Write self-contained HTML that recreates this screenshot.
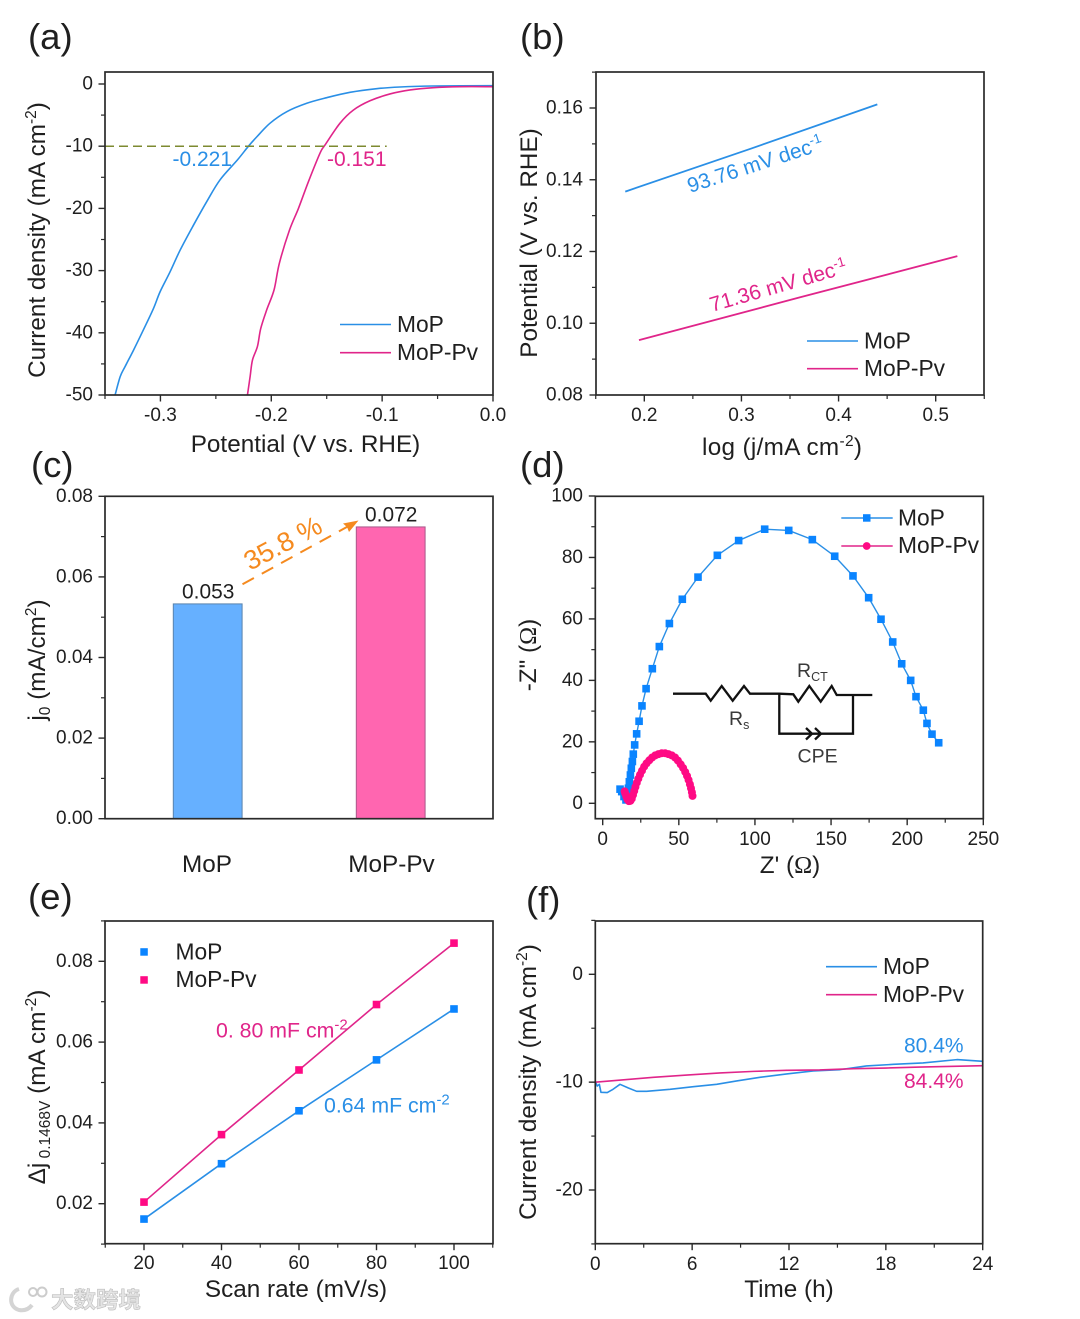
<!DOCTYPE html>
<html lang="en">
<head>
<meta charset="utf-8">
<title>Electrocatalysis chart panels</title>
<style>
html,body{margin:0;padding:0;background:#fff}
svg{display:block;filter:blur(.3px)}
text{font-family:"Liberation Sans","Noto Sans CJK SC",sans-serif;fill:#1f1f1f}
.tick{font-size:19px}
.title{font-size:24.3px}
.legend{font-size:22.8px}
.panel{font-size:36.5px}
.note{font-size:21px}
.frame{fill:none;stroke:#2a2a2a;stroke-width:1.7}
.om{font-family:"Liberation Serif",serif}
.blue{fill:#2a8fe6}
.pink{fill:#e0258a}
</style>
</head>
<body>
<svg id="figure" xmlns="http://www.w3.org/2000/svg" width="1080" height="1319" viewBox="0 0 1080 1319">
<rect width="1080" height="1319" fill="#fff"/>

<text class="panel" x="28" y="49">(a)</text>
<text class="panel" x="520" y="49">(b)</text>
<text class="panel" x="31" y="477">(c)</text>
<text class="panel" x="520" y="477">(d)</text>
<text class="panel" x="28" y="909">(e)</text>
<text class="panel" x="526" y="912">(f)</text>

<g id="plot-a"></g>
<g id="plot-b"></g>
<g id="plot-c"></g>
<g id="plot-d"></g>
<g id="plot-e"></g>
<g id="plot-f"></g>

<rect class="frame" x="105" y="72" width="388" height="323"/>
<rect class="frame" x="596" y="72" width="388" height="323"/>
<rect class="frame" x="105" y="496.3" width="388" height="322.4"/>
<rect class="frame" x="595.3" y="496.3" width="388" height="322.4"/>
<rect class="frame" x="105" y="921" width="388" height="322.7"/>
<rect class="frame" x="595.3" y="921" width="387.4" height="322.7"/>

<text class="title" x="305.5" y="452" text-anchor="middle">Potential (V vs. RHE)</text>
<text class="title" transform="translate(45 240) rotate(-90)" text-anchor="middle">Current density (mA cm<tspan dy="-9" font-size="15.5">-2</tspan><tspan dy="9">)</tspan></text>
<text class="title" x="782" y="455" text-anchor="middle" textLength="160" lengthAdjust="spacing">log (j/mA cm<tspan dy="-9" font-size="15.5">-2</tspan><tspan dy="9">)</tspan></text>
<text class="title" transform="translate(537 243) rotate(-90)" text-anchor="middle">Potential (V vs. RHE)</text>
<text class="title" x="207" y="872" text-anchor="middle">MoP</text>
<text class="title" x="391.5" y="872" text-anchor="middle">MoP-Pv</text>
<text class="title" transform="translate(45 660) rotate(-90)" text-anchor="middle">j<tspan dy="5" font-size="15.5">0</tspan><tspan dy="-5"> (mA/cm</tspan><tspan dy="-9" font-size="15.5">2</tspan><tspan dy="9">)</tspan></text>
<text class="title" x="790" y="873" text-anchor="middle">Z' (<tspan class="om">Ω</tspan>)</text>
<text class="title" transform="translate(536 655) rotate(-90)" text-anchor="middle">-Z" (<tspan class="om">Ω</tspan>)</text>
<text class="title" x="296" y="1297" text-anchor="middle">Scan rate (mV/s)</text>
<text class="title" transform="translate(45 1087) rotate(-90)" text-anchor="middle">Δj<tspan dy="5" font-size="15.5"> 0.1468V</tspan><tspan dy="-5"> (mA cm</tspan><tspan dy="-9" font-size="15.5">-2</tspan><tspan dy="9">)</tspan></text>
<text class="title" x="789" y="1297" text-anchor="middle">Time (h)</text>
<text class="title" transform="translate(536 1082) rotate(-90)" text-anchor="middle">Current density (mA cm<tspan dy="-9" font-size="15.5">-2</tspan><tspan dy="9">)</tspan></text>

<text class="note blue" x="172.5" y="166">-0.221</text>
<text class="note pink" x="327" y="166">-0.151</text>
<g>
  <line x1="340" x2="391" y1="324.5" y2="324.5" stroke="#2a8fe6" stroke-width="1.6"/>
  <text class="legend" x="397" y="332">MoP</text>
  <line x1="340" x2="391" y1="352.7" y2="352.7" stroke="#e0258a" stroke-width="1.6"/>
  <text class="legend" x="397" y="360">MoP-Pv</text>
</g>

<text class="note blue" transform="translate(690 193) rotate(-18)">93.76 mV dec<tspan dy="-8" font-size="13.5">-1</tspan></text>
<text class="note pink" transform="translate(712 312) rotate(-16)">71.36 mV dec<tspan dy="-8" font-size="13.5">-1</tspan></text>
<g>
  <line x1="807" x2="858" y1="341" y2="341" stroke="#2a8fe6" stroke-width="1.6"/>
  <text class="legend" x="864" y="348.5">MoP</text>
  <line x1="807" x2="858" y1="368.7" y2="368.7" stroke="#e0258a" stroke-width="1.6"/>
  <text class="legend" x="864" y="376">MoP-Pv</text>
</g>

<g>
  <line x1="242.5" y1="584.3" x2="350" y2="525.3" stroke="#f58a1f" stroke-width="2" stroke-dasharray="13 9"/>
  <path d="M358.5 520.5 L343 523.5 L347 527 L349 532 Z" fill="#f58a1f"/>
  <text font-size="27" style="fill:#f58a1f" transform="translate(250 571) rotate(-28)">35.8 %</text>
</g>

<g fill="none" stroke="#111" stroke-width="2.3">
  <polyline points="673,693.7 705.7,693.7 710.7,700.7 721.7,686 732.7,700.7 744,686 750,693.7 779.3,693.7 793.3,694.3 798.3,701.7 809.3,686 820.7,701.7 831.7,686 836.7,695 872.3,695"/>
  <polyline points="779.3,693.7 779.3,733.7 853,733.7 853,695"/>
  <polyline points="806,728 812,733.7 806,739.5"/>
  <polyline points="815,728 821,733.7 815,739.5"/>
</g>
<g>
  <text x="797" y="677" font-size="19.5" style="fill:#3a3a3a">R<tspan dy="4" font-size="12.5">CT</tspan></text>
  <text x="729" y="725" font-size="19.5" style="fill:#3a3a3a">R<tspan dy="4" font-size="12.5">s</tspan></text>
  <text x="797.5" y="762.5" font-size="19.5" style="fill:#3a3a3a">CPE</text>
</g>
<g>
  <line x1="841.3" x2="892.7" y1="518" y2="518" stroke="#2a8fe6" stroke-width="1.4"/>
  <rect x="863" y="514.2" width="7.5" height="7.5" fill="#0a84ff"/>
  <text class="legend" x="898" y="525.3">MoP</text>
  <line x1="841.3" x2="892.7" y1="546" y2="546" stroke="#e0258a" stroke-width="1.4"/>
  <circle cx="866.7" cy="546" r="3.9" fill="#ff0a84"/>
  <text class="legend" x="898" y="553">MoP-Pv</text>
</g>

<text class="note pink" x="216" y="1037.5" style="font-size:21.3px">0. 80 mF cm<tspan dy="-8" font-size="15">-2</tspan></text>
<text class="note blue" x="324" y="1112.5" style="font-size:21.3px">0.64 mF cm<tspan dy="-8" font-size="15">-2</tspan></text>
<g>
  <rect x="140.3" y="948.2" width="7.5" height="7.5" fill="#0a84ff"/>
  <text class="legend" x="175.5" y="959.5">MoP</text>
  <rect x="140.3" y="976.2" width="7.5" height="7.5" fill="#ff0a84"/>
  <text class="legend" x="175.5" y="987">MoP-Pv</text>
</g>

<text class="note blue" x="904" y="1052.5">80.4%</text>
<text class="note pink" x="904" y="1088">84.4%</text>
<g>
  <line x1="826" x2="877" y1="966.7" y2="966.7" stroke="#2a8fe6" stroke-width="1.6"/>
  <text class="legend" x="883" y="974">MoP</text>
  <line x1="826" x2="877" y1="994.7" y2="994.7" stroke="#e0258a" stroke-width="1.6"/>
  <text class="legend" x="883" y="1002">MoP-Pv</text>
</g>

<g>
  <path d="M19 1289 C9 1292 8 1307 19 1310 C25 1311 29 1309 32 1305" fill="none" stroke="#d4d4d4" stroke-width="4"/>
  <circle cx="33" cy="1292" r="4" fill="none" stroke="#cccccc" stroke-width="2"/>
  <circle cx="42" cy="1292" r="4.5" fill="none" stroke="#cccccc" stroke-width="2"/>
  <text x="51" y="1308" font-size="22.5" font-weight="700" style="fill:#e4e4e4;stroke:#bdbdbd;stroke-width:.6">大数跨境</text>
</g>
</svg>

<script>
// Panel (a): polarization curves
const lsvMopPotential = [-0.3409,-0.3363,-0.3318,-0.3243,-0.3153,-0.3063,-0.3003,-0.2913,-0.2822,-0.2702,-0.2582,-0.2462,-0.2305,-0.2206,-0.2131,-0.2011,-0.186,-0.168,-0.15,-0.129,-0.105,-0.084,-0.054,0];
const lsvMopCurrent = [-50,-47.05,-45.4,-42.8,-39.5,-36.1,-33.4,-30.2,-26.7,-22.7,-18.9,-15.4,-12.2,-10,-8.5,-6.3,-4.45,-3.1,-2.2,-1.34,-0.75,-0.48,-0.32,-0.27];
const lsvPvPotential = [-0.2215,-0.2191,-0.217,-0.2125,-0.2095,-0.2041,-0.1975,-0.1927,-0.1836,-0.1755,-0.1665,-0.156,-0.1515,-0.138,-0.126,-0.111,-0.0929,-0.0748,-0.0538,-0.03,0];
const lsvPvCurrent = [-50,-47.05,-44.4,-42.2,-39.3,-36.3,-33.1,-28.8,-23.5,-20,-15.7,-11.1,-9.8,-6.3,-4.2,-2.7,-1.6,-0.96,-0.59,-0.43,-0.43];
const refPotential = [-0.35,-0.0959];
const refCurrent = [-10,-10];
const aXTicks = [-0.3,-0.2,-0.1,0];
const aXLabels = ['-0.3','-0.2','-0.1','0.0'];
const aXMinor = [-0.35,-0.25,-0.15,-0.05];
const aYTicks = [0,-10,-20,-30,-40,-50];
const aYLabels = ['0','-10','-20','-30','-40','-50'];
const aYMinor = [-5,-15,-25,-35,-45];

// Panel (b): Tafel lines
const tafelMopLog = [0.1804,0.31,0.4399];
const tafelMopPot = [0.1367,0.1487,0.161];
const tafelPvLog = [0.1945,0.36,0.5223];
const tafelPvPot = [0.0953,0.1072,0.1187];
const bXTicks = [0.2,0.3,0.4,0.5];
const bXLabels = ['0.2','0.3','0.4','0.5'];
const bXMinor = [0.15,0.25,0.35,0.45,0.55];
const bYTicks = [0.16,0.14,0.12,0.10,0.08];
const bYLabels = ['0.16','0.14','0.12','0.10','0.08'];
const bYMinor = [0.17,0.15,0.13,0.11,0.09];

// Panel (c): exchange current density bars
const barCategories = ['MoP','MoP-Pv'];
const barValues = [0.0533,0.0724];
const barLabels = ['0.053','0.072'];
const cYTicks = [0.08,0.06,0.04,0.02,0];
const cYLabels = ['0.08','0.06','0.04','0.02','0.00'];
const cYMinor = [0.07,0.05,0.03,0.01];

// Panel (d): Nyquist plot
const eisMopRe = [220.7,216.3,213,210.6,205.8,202.3,196.4,190.5,182.8,174.7,164.4,152.4,137.7,122.2,106.4,89.3,75.3,62.6,52.3,43.8,37.2,32.6,28.5,25.8,23.9,22.3,21,20.1,19.5,18.8,18.2,17.5,16.9,16.2,15.3,14,12.5,11.4];
const eisMopIm = [19.7,22.5,26,30.3,34.7,40,45.4,52.5,59.9,66.9,74,80.4,85.8,88.8,89.2,85.5,80.7,73.6,66.4,58.5,51,43.8,37.3,31.7,26.7,22.6,19,16,13.6,11.4,9.2,7,4.9,2.7,1.1,2.2,3.8,4.6];
const eisPvRe = [59,58.6,58,57.3,56.4,55.4,54.2,52.8,51.2,49.4,47.5,45.4,43.2,41,38.8,36.6,34.5,32.5,30.6,28.8,27.2,25.8,24.5,23.4,22.4,21.5,20.7,19.9,19.1,18.2,17.2,16.3,15.5,14.8,14.4];
const eisPvIm = [2.4,3.6,4.9,6.2,7.6,8.9,10.2,11.5,12.7,13.9,14.9,15.6,16,16.3,16.3,16,15.6,14.9,14,13,11.9,10.6,9.3,8,6.7,5.3,4,2.7,1.5,0.8,0.7,1.2,2.2,3.2,3.9];
const dXTicks = [0,50,100,150,200,250];
const dXLabels = ['0','50','100','150','200','250'];
const dXMinor = [25,75,125,175,225];
const dYTicks = [100,80,60,40,20,0];
const dYLabels = ['100','80','60','40','20','0'];
const dYMinor = [90,70,50,30,10];

// Panel (e): capacitive current vs scan rate
const scanRates = [20,40,60,80,100];
const capMop = [0.0162,0.0299,0.043,0.0556,0.0682];
const capPv = [0.0204,0.0371,0.0531,0.0693,0.0845];
const eXTicks = [20,40,60,80,100];
const eXLabels = ['20','40','60','80','100'];
const eXMinor = [10,30,50,70,90,110];
const eYTicks = [0.08,0.06,0.04,0.02];
const eYLabels = ['0.08','0.06','0.04','0.02'];
const eYMinor = [0.09,0.07,0.05,0.03,0.01];

// Panel (f): stability
const stabMopTime = [0,0.12,0.25,0.35,0.74,1.1,1.53,2.05,2.56,3.18,4.63,6.07,7.52,8.76,10.2,11.86,13.5,15.17,16.8,18.47,20.3,22.4,24];
const stabMopJ = [-9.95,-10.36,-10.2,-10.94,-10.97,-10.66,-10.2,-10.54,-10.85,-10.85,-10.66,-10.42,-10.2,-9.89,-9.55,-9.24,-8.96,-8.84,-8.5,-8.35,-8.22,-7.91,-8.07];
const stabPvTime = [0,3.6,5.66,7.73,9.8,11.86,13.9,16,18,20.1,24];
const stabPvJ = [-10,-9.55,-9.34,-9.15,-9,-8.9,-8.87,-8.75,-8.69,-8.6,-8.47];
const fXTicks = [0,6,12,18,24];
const fXLabels = ['0','6','12','18','24'];
const fXMinor = [3,9,15,21];
const fYTicks = [0,-10,-20];
const fYLabels = ['0','-10','-20'];
const fYMinor = [5,-5,-15,-25];

const NS = 'http://www.w3.org/2000/svg';
const BLUE = '#2a8fe6', PINK = '#e0258a', MBLUE = '#0a84ff', MPINK = '#ff0a84';

function scale(d0, d1, r0, r1) { return v => r0 + (v - d0) * (r1 - r0) / (d1 - d0); }

function node(tag, attrs, parent) {
  const e = document.createElementNS(NS, tag);
  for (const k in attrs) e.setAttribute(k, attrs[k]);
  parent.appendChild(e);
  return e;
}

function drawXAxis(g, x, yBase, labelY, ticks, labels, minor, key) {
  ticks.forEach((t, i) => {
    const tk = node('line', {x1: x(t), x2: x(t), y1: yBase, y2: yBase + 6.5, stroke: '#2a2a2a', 'stroke-width': 1.4}, g);
    
    
    const lb = node('text', {x: x(t), y: labelY, 'text-anchor': 'middle', class: 'tick'}, g);
    lb.textContent = labels[i];
    
    
  });
  minor.forEach(t => {
    const tk = node('line', {x1: x(t), x2: x(t), y1: yBase, y2: yBase + 4, stroke: '#2a2a2a', 'stroke-width': 1.2}, g);
    
    
  });
}

function drawYAxis(g, y, xBase, labelX, ticks, labels, minor, key) {
  ticks.forEach((t, i) => {
    const tk = node('line', {x1: xBase - 6.5, x2: xBase, y1: y(t), y2: y(t), stroke: '#2a2a2a', 'stroke-width': 1.4}, g);
    
    
    const lb = node('text', {x: labelX, y: y(t) + 5.5, 'text-anchor': 'end', class: 'tick'}, g);
    lb.textContent = labels[i];
    
    
  });
  minor.forEach(t => {
    const tk = node('line', {x1: xBase - 4, x2: xBase, y1: y(t), y2: y(t), stroke: '#2a2a2a', 'stroke-width': 1.2}, g);
    
    
  });
}

function drawLine(g, xs, ys, x, y, color, width, name, extra) {
  const pts = xs.map((v, i) => x(v).toFixed(2) + ',' + y(ys[i]).toFixed(2)).join(' ');
  const l = node('polyline', Object.assign({points: pts, fill: 'none', stroke: color, 'stroke-width': width, 'stroke-linejoin': 'round'}, extra || {}), g);
  
  
}

// Catmull-Rom curve through the read points, for the smooth sweep curves.
function drawCurve(g, xs, ys, x, y, color, width, name) {
  const p = xs.map((v, i) => [x(v), y(ys[i])]);
  let d = 'M' + p[0][0].toFixed(2) + ' ' + p[0][1].toFixed(2);
  for (let i = 0; i < p.length - 1; i++) {
    const a = p[Math.max(i - 1, 0)], b = p[i], c = p[i + 1], e = p[Math.min(i + 2, p.length - 1)];
    const c1x = b[0] + (c[0] - a[0]) / 6, c1y = b[1] + (c[1] - a[1]) / 6;
    const c2x = c[0] - (e[0] - b[0]) / 6, c2y = c[1] - (e[1] - b[1]) / 6;
    d += ' C' + c1x.toFixed(2) + ' ' + c1y.toFixed(2) + ' ' + c2x.toFixed(2) + ' ' + c2y.toFixed(2) + ' ' + c[0].toFixed(2) + ' ' + c[1].toFixed(2);
  }
  const l = node('path', {d: d, fill: 'none', stroke: color, 'stroke-width': width, 'stroke-linejoin': 'round'}, g);
  
  
}

function drawSquares(g, xs, ys, x, y, color, size, name) {
  xs.forEach((v, i) => {
    const s = node('rect', {x: x(v) - size / 2, y: y(ys[i]) - size / 2, width: size, height: size, fill: color}, g);
    
    
  });
}

function drawCircles(g, xs, ys, x, y, color, r, name) {
  xs.forEach((v, i) => {
    const s = node('circle', {cx: x(v), cy: y(ys[i]), r: r, fill: color}, g);
    
    
  });
}

// (a)
const gA = document.getElementById('plot-a');
const xA = scale(-0.35, 0, 105, 493), yA = scale(0, -50, 84, 395);
drawXAxis(gA, xA, 395, 421, aXTicks, aXLabels, aXMinor, 'a');
drawYAxis(gA, yA, 105, 93, aYTicks, aYLabels, aYMinor, 'a');
drawCurve(gA, lsvMopPotential, lsvMopCurrent, xA, yA, BLUE, 1.6, 'lsv-curve-mop');
drawCurve(gA, lsvPvPotential, lsvPvCurrent, xA, yA, PINK, 1.6, 'lsv-curve-mop-pv');
drawLine(gA, refPotential, refCurrent, xA, yA, '#7d8a30', 1.5, 'reference-line-10-ma', {'stroke-dasharray': '9 5'});

// (b)
const gB = document.getElementById('plot-b');
const xB = scale(0.2, 0.5, 644.3, 935.7), yB = scale(0.16, 0.08, 108, 395);
drawXAxis(gB, xB, 395, 421, bXTicks, bXLabels, bXMinor, 'b');
drawYAxis(gB, yB, 596, 583, bYTicks, bYLabels, bYMinor, 'b');
drawLine(gB, tafelMopLog, tafelMopPot, xB, yB, BLUE, 1.8, 'tafel-line-mop');
drawLine(gB, tafelPvLog, tafelPvPot, xB, yB, PINK, 1.8, 'tafel-line-mop-pv');

// (c)
const gC = document.getElementById('plot-c');
const xC = scale(1, 2, 207.7, 390.7), yC = scale(0, 0.08, 818.7, 496.3);
drawYAxis(gC, yC, 105, 93, cYTicks, cYLabels, cYMinor, 'c');
const barFills = ['#66b0ff', '#ff66b0'];
const barEdges = ['#5a84ad', '#a8598a'];
barCategories.forEach((c, i) => {
  const cx = xC(i + 1);
  const r = node('rect', {x: cx - 34.4, y: yC(barValues[i]), width: 68.8, height: yC(0) - yC(barValues[i]), fill: barFills[i], stroke: barEdges[i], 'stroke-width': 1}, gC);
  
  
  const t = node('text', {x: cx + 0.5, y: yC(barValues[i]) - 5.2, 'text-anchor': 'middle', 'font-size': 20.9}, gC);
  t.textContent = barLabels[i];
  
  
});

// (d)
const gD = document.getElementById('plot-d');
const xD = scale(0, 250, 602.7, 983.3), yD = scale(0, 100, 803.3, 496);
drawXAxis(gD, xD, 818.7, 845, dXTicks, dXLabels, dXMinor, 'd');
drawYAxis(gD, yD, 595.3, 583, dYTicks, dYLabels, dYMinor, 'd');
drawLine(gD, eisMopRe, eisMopIm, xD, yD, BLUE, 1.4, 'nyquist-line-mop');
drawSquares(gD, eisMopRe, eisMopIm, xD, yD, MBLUE, 7.6, 'nyquist-mop');
drawLine(gD, eisPvRe, eisPvIm, xD, yD, MPINK, 3, 'nyquist-line-mop-pv');
drawCircles(gD, eisPvRe, eisPvIm, xD, yD, MPINK, 4, 'nyquist-mop-pv');

// (e)
const gE = document.getElementById('plot-e');
const xE = scale(20, 100, 144, 454), yE = scale(0.02, 0.08, 1203.7, 961.3);
drawXAxis(gE, xE, 1243.7, 1269, eXTicks, eXLabels, eXMinor, 'e');
drawYAxis(gE, yE, 105, 93, eYTicks, eYLabels, eYMinor, 'e');
drawLine(gE, scanRates, capMop, xE, yE, BLUE, 1.6, 'capacitance-line-mop');
drawLine(gE, scanRates, capPv, xE, yE, PINK, 1.6, 'capacitance-line-mop-pv');
drawSquares(gE, scanRates, capMop, xE, yE, MBLUE, 7.6, 'capacitance-mop');
drawSquares(gE, scanRates, capPv, xE, yE, MPINK, 7.6, 'capacitance-mop-pv');

// (f)
const gF = document.getElementById('plot-f');
const xF = scale(0, 24, 595.3, 982.7), yF = scale(0, -20, 974.3, 1190);
drawXAxis(gF, xF, 1243.7, 1270, fXTicks, fXLabels, fXMinor, 'f');
drawYAxis(gF, yF, 595.3, 583, fYTicks, fYLabels, fYMinor, 'f');
drawLine(gF, stabMopTime, stabMopJ, xF, yF, BLUE, 1.6, 'stability-curve-mop');
drawLine(gF, stabPvTime, stabPvJ, xF, yF, PINK, 1.6, 'stability-curve-mop-pv');
</script>
</body>
</html>
